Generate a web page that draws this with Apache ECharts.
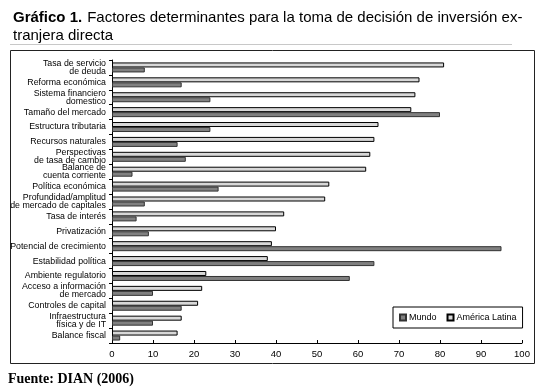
<!DOCTYPE html>
<html>
<head>
<meta charset="utf-8">
<script src="https://cdn.jsdelivr.net/npm/echarts@6/dist/echarts.min.js"></script>
<style>
  html, body { margin: 0; padding: 0; background: #fff; }
  #chart { width: 545px; height: 388px; }
</style>
</head>
<body>
<div id="chart"></div>
<script>
const categories = [
  'Tasa de servicio\nde deuda',
  'Reforma económica',
  'Sistema financiero\ndomestico',
  'Tamaño del mercado',
  'Estructura tributaria',
  'Recursos naturales',
  'Perspectivas\nde tasa de cambio',
  'Balance de\ncuenta corriente',
  'Política económica',
  'Profundidad/amplitud\nde mercado de capitales',
  'Tasa de interés',
  'Privatización',
  'Potencial de crecimiento',
  'Estabilidad política',
  'Ambiente regulatorio',
  'Acceso a información\nde mercado',
  'Controles de capital',
  'Infraestructura\nfísica y de IT',
  'Balance fiscal'
];
const mundo = [8, 17, 24, 80, 24, 16, 18, 5, 26, 8, 6, 9, 95, 64, 58, 10, 17, 10, 2];
const americaLatina = [81, 75, 74, 73, 65, 64, 63, 62, 53, 52, 42, 40, 39, 38, 23, 22, 21, 17, 16];

const chart = echarts.init(document.getElementById('chart'));

const option = {
  animation: false,
  textStyle: { fontFamily: 'Liberation Sans, Arial, sans-serif' },
  title: {
    left: 8,
    top: 4,
    text: '{b|Gráfico 1.} {n|Factores determinantes para la toma de decisión de inversión ex-}\n{n|tranjera directa}',
    textStyle: {
      fontWeight: 'normal',
      rich: {
        b: { fontSize: 15, fontWeight: 'bold', color: '#000', lineHeight: 18 },
        n: { fontSize: 15, fontWeight: 'normal', color: '#000', lineHeight: 18 }
      }
    }
  },
  graphic: [
    {
      type: 'line',
      shape: { x1: 10, y1: 44.5, x2: 512, y2: 44.5 },
      style: { stroke: '#c8c8c8', lineWidth: 1 }
    },
    {
      type: 'rect',
      shape: { x: 10.5, y: 50.5, width: 524, height: 313 },
      style: { fill: 'none', stroke: '#222', lineWidth: 1 },
      z: -1
    },
    {
      type: 'text',
      left: 8,
      top: 372,
      style: {
        text: 'Fuente: DIAN (2006)',
        font: 'bold 14px "Liberation Serif", serif',
        fill: '#000'
      }
    }
  ],
  legend: {
    left: 393,
    top: 307,
    orient: 'horizontal',
    data: ['Mundo', 'América Latina'],
    icon: 'rect',
    itemWidth: 6,
    itemHeight: 6,
    itemGap: 10,
    padding: [6, 6],
    borderColor: '#000',
    borderWidth: 1,
    backgroundColor: '#fff',
    textStyle: { fontSize: 9, color: '#000', padding: [0, 0, 0, -2] }
  },
  grid: {
    left: 112,
    right: 23,
    top: 60,
    bottom: 45,
    containLabel: false
  },
  xAxis: {
    type: 'value',
    min: 0,
    max: 100,
    interval: 10,
    axisLine: { show: true, lineStyle: { color: '#000', width: 1 } },
    axisTick: { show: true, inside: true, length: 3, lineStyle: { color: '#000' } },
    axisLabel: { fontSize: 9.5, color: '#000', margin: 6 },
    splitLine: { show: false }
  },
  yAxis: {
    type: 'category',
    inverse: true,
    data: categories,
    axisLine: { show: true, lineStyle: { color: '#000', width: 1 } },
    axisTick: { show: true, length: 3, lineStyle: { color: '#000' } },
    axisLabel: { fontSize: 8.8, color: '#000', lineHeight: 8, margin: 6, align: 'right' }
  },
  series: [
    {
      name: 'América Latina',
      type: 'bar',
      data: americaLatina,
      barWidth: 5,
      barGap: '0%',
      itemStyle: { color: '#d8d8d8', borderColor: '#000', borderWidth: 1 }
    },
    {
      name: 'Mundo',
      type: 'bar',
      data: mundo,
      barWidth: 5,
      barGap: '0%',
      itemStyle: { color: '#808080', borderColor: '#333', borderWidth: 1 }
    }
  ]
};

chart.setOption(option);
window.addEventListener('resize', () => {
  chart.resize();
});
</script>
</body>
</html>
